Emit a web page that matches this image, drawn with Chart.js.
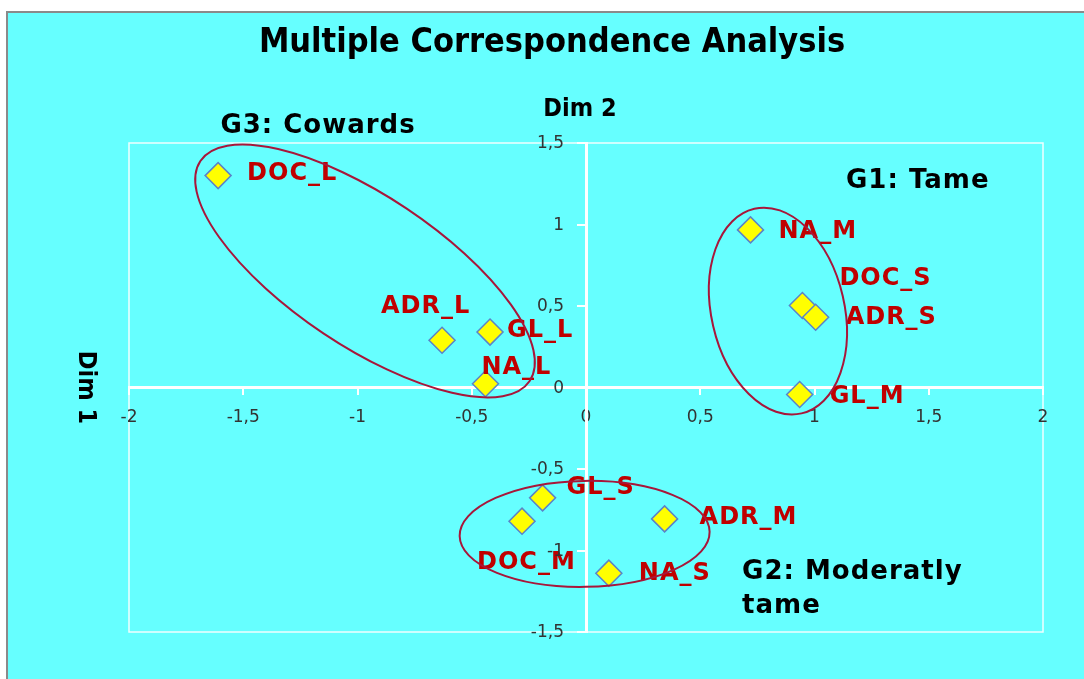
<!DOCTYPE html>
<html>
<head>
<meta charset="utf-8">
<script src="https://cdn.jsdelivr.net/npm/chart.js@4.4.1/dist/chart.umd.min.js"></script>
<style>
    html, body { margin: 0; padding: 0; background: #ffffff; }
    #wrap { position: relative; width: 1084px; height: 679px; overflow: hidden; }
    #frame {
        position: absolute; left: 6px; top: 11px; right: 0; bottom: 0;
        background: #66ffff;
        border-left: 2px solid #8a8a8a;
        border-top: 2px solid #8a8a8a;
    }
    #mca { position: absolute; left: 0; top: 0; }
</style>
</head>
<body>
<div id="wrap">
    <div id="frame"></div>
    <canvas id="mca" width="1084" height="679"></canvas>
</div>
<script>
// modalities and their coordinates on the two first dimensions
const categories = ['DOC_L', 'ADR_L', 'GL_L', 'NA_L', 'NA_M', 'DOC_S', 'ADR_S', 'GL_M', 'GL_S', 'DOC_M', 'ADR_M', 'NA_S'];
const dim1Values = [-1.61, -0.63, -0.42, -0.44, 0.72, 0.947, 1.005, 0.935, -0.19, -0.28, 0.344, 0.10];
const dim2Values = [1.30, 0.29, 0.34, 0.023, 0.967, 0.503, 0.431, -0.043, -0.677, -0.82, -0.806, -1.139];

const xTicks = [-2, -1.5, -1, -0.5, 0, 0.5, 1, 1.5, 2];
const yTicks = [-1.5, -1, -0.5, 0, 0.5, 1, 1.5];

const chartTitle = 'Multiple Correspondence Analysis';
const xAxisName = 'Dim 2';
const yAxisName = 'Dim 1';
const groupNames = [['G3: Cowards'], ['G1: Tame'], ['G2: Moderatly', 'tame']];

// ---- drawing settings below ----
const LABEL_RED = '#c00000';
const RING_RED = '#a8163a';
const TICK_GREY = '#333333';
const HEAD_FONT = '"Liberation Sans Narrow", "DejaVu Sans Condensed", "Noto Sans"';

// label offset from the marker centre: [dx to left edge, dy to middle]
const labelNudge = [
    [29, -2], [-61, -33], [17, -1], [-4, -16], [28, 2], [37, -27],
    [30, 1], [30, 2], [24, -10], [-45, 42], [35, -1], [30, 1]
];

// group rings: centre in data units, semi axes in px, tilt in degrees
const groupRings = [
    { cx: -0.967, cy: 0.715, a: 198, b: 75, tilt: 33.75 },
    { cx: 0.840, cy: 0.469, a: 105, b: 66.5, tilt: 77 },
    { cx: -0.006, cy: -0.898, a: 125, b: 53, tilt: -1 }
];

// group name anchor (left edge, first baseline) in data units
const groupAnchors = [
    { x: -1.60, y: 1.564 },
    { x: 1.138, y: 1.221 },
    { x: 0.683, y: -1.172 }
];

function formatTick(value) {
    return String(value).replace('.', ',');
}

const decorPlugin = {
    id: 'mcaDecor',
    beforeDraw(chart) {
        const { ctx, chartArea } = chart;
        ctx.save();
        ctx.strokeStyle = 'rgba(255,255,255,0.9)';
        ctx.lineWidth = 1.5;
        ctx.strokeRect(chartArea.left, chartArea.top,
            chartArea.right - chartArea.left, chartArea.bottom - chartArea.top);
        ctx.restore();
    },
    afterDatasetsDraw(chart) {
        const { ctx } = chart;
        const meta = chart.getDatasetMeta(0);
        ctx.save();
        ctx.font = 'bold 24px "DejaVu Sans"';
        ctx.fillStyle = LABEL_RED;
        ctx.textAlign = 'left';
        ctx.textBaseline = 'middle';
        ctx.letterSpacing = '1px';
        meta.data.forEach((pt, i) => {
            const nudge = labelNudge[i];
            ctx.fillText(categories[i], pt.x + nudge[0], pt.y + nudge[1]);
        });
        ctx.restore();
    },
    afterDraw(chart) {
        const { ctx, scales } = chart;
        const sx = scales.x;
        const sy = scales.y;
        ctx.save();

        // y tick labels, right aligned left of the centred axis
        const axisX = sx.getPixelForValue(0);
        ctx.fillStyle = TICK_GREY;
        ctx.font = '17px "DejaVu Sans"';
        ctx.textAlign = 'right';
        ctx.textBaseline = 'middle';
        sy.ticks.forEach((t) => {
            ctx.fillText(formatTick(t.value), axisX - 22, sy.getPixelForValue(t.value) + 1);
        });

        // group rings
        ctx.strokeStyle = RING_RED;
        ctx.lineWidth = 2;
        groupRings.forEach((r) => {
            ctx.beginPath();
            ctx.ellipse(sx.getPixelForValue(r.cx), sy.getPixelForValue(r.cy),
                r.a, r.b, r.tilt * Math.PI / 180, 0, Math.PI * 2);
            ctx.stroke();
        });

        // group names
        ctx.fillStyle = '#000000';
        ctx.font = 'bold 26px "DejaVu Sans"';
        ctx.textAlign = 'left';
        ctx.textBaseline = 'alphabetic';
        ctx.letterSpacing = '1px';
        groupNames.forEach((lines, i) => {
            const gx = sx.getPixelForValue(groupAnchors[i].x);
            const gy = sy.getPixelForValue(groupAnchors[i].y);
            lines.forEach((line, j) => {
                ctx.fillText(line, gx, gy + j * 34);
            });
        });
        ctx.letterSpacing = '0px';

        // chart title
        ctx.textAlign = 'center';
        ctx.font = 'bold 34px ' + HEAD_FONT;
        ctx.fillText(chartTitle, 552, 52);

        // axis names
        ctx.font = 'bold 25px ' + HEAD_FONT;
        ctx.fillText(xAxisName, axisX - 6, 116);
        ctx.translate(79, sy.getPixelForValue(0));
        ctx.rotate(Math.PI / 2);
        ctx.fillText(yAxisName, 0, 0);
        ctx.restore();
    }
};

const chart = new Chart(document.getElementById('mca'), {
    type: 'scatter',
    data: {
        datasets: [{
            label: 'MCA',
            data: categories.map((c, i) => ({ x: dim1Values[i], y: dim2Values[i] })),
            pointStyle: 'rectRot',
            pointRadius: 13,
            pointHoverRadius: 13,
            backgroundColor: '#ffff00',
            borderColor: '#5b83c7',
            borderWidth: 1.5
        }]
    },
    options: {
        responsive: false,
        animation: false,
        events: [],
        layout: {
            padding: { left: 129, top: 143, right: 41, bottom: 47 }
        },
        plugins: {
            legend: { display: false },
            tooltip: { enabled: false },
            title: { display: false }
        },
        scales: {
            x: {
                type: 'linear',
                min: -2,
                max: 2,
                position: { y: 0 },
                afterBuildTicks: (scale) => {
                    scale.ticks = xTicks.map((v) => ({ value: v }));
                },
                grid: {
                    drawOnChartArea: false,
                    drawTicks: true,
                    tickLength: 6,
                    color: '#ffffff',
                    lineWidth: 2
                },
                border: { display: true, color: '#ffffff', width: 3 },
                ticks: {
                    autoSkip: false,
                    maxRotation: 0,
                    padding: 14,
                    color: TICK_GREY,
                    font: { family: '"DejaVu Sans"', size: 17 },
                    callback: (value) => formatTick(value)
                }
            },
            y: {
                type: 'linear',
                min: -1.5,
                max: 1.5,
                position: { x: 0 },
                afterBuildTicks: (scale) => {
                    scale.ticks = yTicks.map((v) => ({ value: v }));
                },
                grid: {
                    drawOnChartArea: false,
                    drawTicks: true,
                    tickLength: 8,
                    color: '#ffffff',
                    lineWidth: 2
                },
                border: { display: true, color: '#ffffff', width: 3 },
                ticks: { display: false }
            }
        }
    },
    plugins: [decorPlugin]
});
</script>
</body>
</html>
